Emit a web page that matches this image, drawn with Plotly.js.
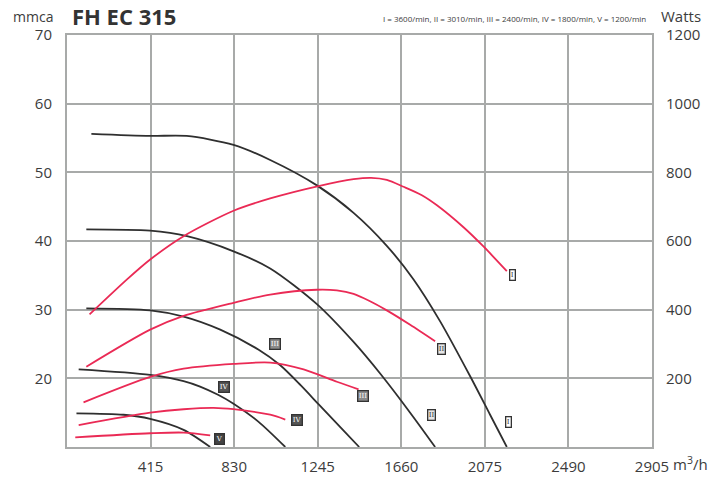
<!DOCTYPE html>
<html><head><meta charset="utf-8">
<script src="https://cdn.plot.ly/plotly-3.0.1.min.js"></script>
<style>html,body{margin:0;padding:0;background:#fff}#c{width:724px;height:477px}</style>
</head><body><div id="c"></div>
<script>
// Pressure curves (mmca) per speed
const blkI_x = [121, 413, 594, 827, 1009, 1241, 1423, 1588, 1721, 1853, 2002, 2101, 2184];
const blkI_y = [55.6, 55.3, 55.3, 54.0, 51.8, 48.1, 44.1, 39.3, 34.4, 28.3, 20.3, 14.7, 10.0];
const blkII_x = [96, 413, 596, 827, 1009, 1241, 1423, 1555, 1704, 1828];
const blkII_y = [41.7, 41.5, 40.7, 38.5, 36.0, 30.8, 25.3, 20.7, 15.0, 10.0];
const blkIII_x = [96, 413, 579, 761, 950, 1059, 1160, 1250, 1350, 1451];
const blkIII_y = [30.2, 29.9, 29.0, 27.1, 24.2, 21.9, 19.0, 16.2, 13.1, 10.0];
const blkIV_x = [58, 413, 579, 661, 750, 827, 950, 1084];
const blkIV_y = [21.3, 20.5, 19.6, 18.8, 17.6, 16.3, 13.7, 10.0];
const blkV_x = [47, 281, 413, 579, 711];
const blkV_y = [14.9, 14.7, 14.1, 12.5, 10.0];

// Power curves (Watts) per speed
const redI_x = [112, 298, 413, 579, 827, 1009, 1249, 1423, 1510, 1588, 1671, 1760, 1837, 1969, 2068, 2184];
const redI_w = [386, 488, 546, 614, 688, 724, 760, 780, 784, 778, 758, 734, 704, 640, 584, 512];
const redII_x = [96, 413, 579, 827, 1009, 1241, 1340, 1423, 1500, 1588, 1704, 1828];
const redII_w = [234, 342, 382, 420, 444, 458, 456, 446, 426, 398, 356, 308];
const redIII_x = [82, 413, 579, 827, 1009, 1175, 1340, 1448];
const redIII_w = [130, 204, 228, 242, 246, 226, 190, 168];
const redIV_x = [58, 413, 579, 728, 827, 1009, 1084];
const redIV_w = [64, 100, 110, 114, 110, 94, 80];
const redV_x = [41, 413, 579, 711];
const redV_w = [28, 40, 42, 34];

// Curve labels
const labText = ['I', 'II', 'III', 'IV', 'V', 'I', 'II', 'III', 'IV'];
const labX = [2210, 1858, 1469, 1142, 757, 2191, 1808, 1034, 781];
const labY = [35.1, 24.3, 17.5, 14.0, 11.1, 13.6, 14.6, 25.0, 18.8];

const xTicks = [415, 830, 1245, 1660, 2075, 2490, 2905];
const yTicks = [20, 30, 40, 50, 60, 70];
const y2Ticks = [200, 400, 600, 800, 1000, 1200];

const BLACK = '#2f2f2f', RED = '#ea2a55', GRID = '#a8aaa9', TXT = '#3c3c3c';
const FONT = 'Open Sans, sans-serif';

function blk(x, y) { return {x, y, type: 'scatter', mode: 'lines', line: {color: BLACK, width: 1.8, shape: 'spline', smoothing: 0.8}, hoverinfo: 'skip'}; }
function red(x, y) { return {x, y, yaxis: 'y2', type: 'scatter', mode: 'lines', line: {color: RED, width: 1.8, shape: 'spline', smoothing: 0.8}, hoverinfo: 'skip'}; }

const traces = [
  blk(blkI_x, blkI_y), blk(blkII_x, blkII_y), blk(blkIII_x, blkIII_y), blk(blkIV_x, blkIV_y), blk(blkV_x, blkV_y),
  red(redI_x, redI_w), red(redII_x, redII_w), red(redIII_x, redIII_w), red(redIV_x, redIV_w), red(redV_x, redV_w)
];

const fills = {I: '#ffffff', II: '#e6e6e6', III: '#8a8a8a', IV: '#555555', V: '#444444'};
const fcol = {I: '#333', II: '#333', III: '#fff', IV: '#fff', V: '#fff'};

const L = 66.7, R = 652, T = 35, B = 447.3, W = R - L, H = B - T;
const px = v => (v - L) / W, py = v => (B - v) / H;

const annotations = labText.map((t, i) => ({
  x: labX[i], y: labY[i], xref: 'x', yref: 'y', text: t, showarrow: false,
  font: {family: 'DejaVu Serif, serif', size: 7, color: fcol[t]},
  bgcolor: fills[t], bordercolor: '#333', borderwidth: 1.3, borderpad: 0.5,
  xanchor: 'center', yanchor: 'middle'
}));
annotations.push(
  {xref: 'paper', yref: 'paper', x: px(55), y: py(16), xanchor: 'right', yanchor: 'middle', text: 'mmca', showarrow: false, font: {family: FONT, size: 14, color: TXT}},
  {xref: 'paper', yref: 'paper', x: px(659), y: py(16), xanchor: 'left', yanchor: 'middle', text: 'Watts', showarrow: false, font: {family: FONT, size: 15, color: TXT}},
  {xref: 'paper', yref: 'paper', x: px(648), y: py(18), xanchor: 'right', yanchor: 'middle', text: 'I = 3600/min, II = 3010/min, III = 2400/min, IV = 1800/min, V = 1200/min', showarrow: false, font: {family: FONT, size: 8, color: TXT}},
  {xref: 'paper', yref: 'paper', x: px(671), y: py(464), xanchor: 'left', yanchor: 'middle', text: 'm<sup>3</sup>/h', showarrow: false, font: {family: FONT, size: 15, color: TXT}}
);

const layout = {
  width: 724, height: 477,
  margin: {l: L, r: 724 - R, t: T, b: 477 - B, pad: 0},
  paper_bgcolor: '#fff', plot_bgcolor: '#fff',
  showlegend: false,
  font: {family: FONT, color: TXT, size: 15},
  title: {text: '<b>FH EC 315</b>', x: 72 / 724, xanchor: 'left', xref: 'container', y: 1 - 17 / 477, yanchor: 'middle', yref: 'container', font: {family: FONT, size: 22, color: '#333'}},
  xaxis: {range: [0, 2905], tickvals: xTicks, ticktext: xTicks.map(String), showgrid: true, gridcolor: GRID, gridwidth: 2,
          showline: true, linecolor: GRID, linewidth: 2, mirror: true, zeroline: false,
          ticks: 'outside', ticklen: 5, tickcolor: 'rgba(0,0,0,0)', tickfont: {family: FONT, size: 15, color: TXT}},
  yaxis: {range: [10, 70], tickvals: yTicks, showgrid: true, gridcolor: GRID, gridwidth: 2,
          showline: true, linecolor: GRID, linewidth: 2, mirror: true, zeroline: false,
          ticks: 'outside', ticklen: 10, tickcolor: 'rgba(0,0,0,0)', tickfont: {family: FONT, size: 15, color: TXT}},
  yaxis2: {range: [0, 1200], tickvals: y2Ticks, overlaying: 'y', side: 'right', showgrid: false, zeroline: false,
           showline: false, ticks: 'outside', ticklen: 10, tickcolor: 'rgba(0,0,0,0)', tickfont: {family: FONT, size: 15, color: TXT}},
  annotations
};

Plotly.newPlot('c', traces, layout, {staticPlot: true, displayModeBar: false});
</script></body></html>
